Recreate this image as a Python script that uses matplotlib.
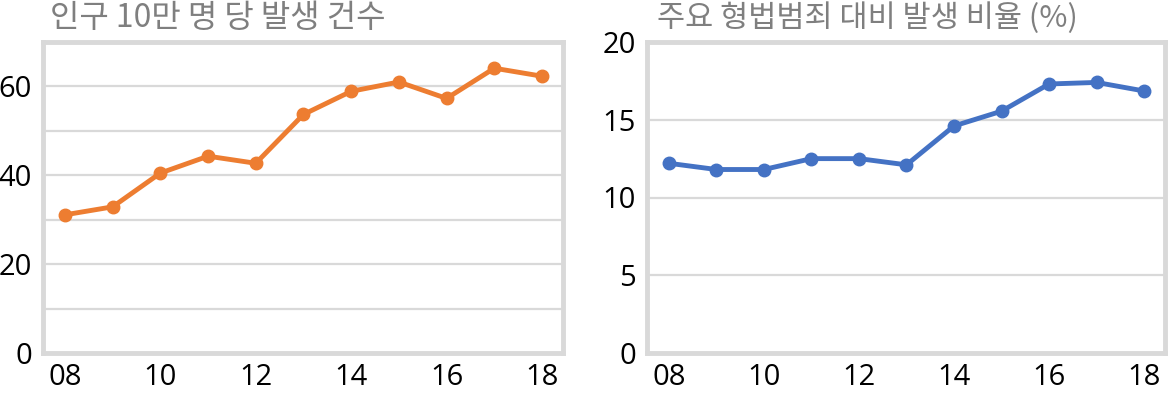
import matplotlib
matplotlib.use("Agg")
import matplotlib.pyplot as plt

plt.rcParams['font.family'] = ['Open Sans', 'Noto Sans CJK KR', 'DejaVu Sans']

# data
years = [2008, 2009, 2010, 2011, 2012, 2013, 2014, 2015, 2016, 2017, 2018]
year_labels = ["08", "10", "12", "14", "16", "18"]
per_100k = [31.1, 32.9, 40.5, 44.3, 42.7, 53.7, 58.9, 61.0, 57.3, 64.1, 62.3]
ratio_pct = [12.2, 11.8, 11.8, 12.5, 12.5, 12.1, 14.6, 15.55, 17.3, 17.4, 16.85]

left_title = "인구 10만 명 당 발생 건수"
right_title = "주요 형법범죄 대비 발생 비율 (%)"

frame_color = "#d9d9d9"
grid_color = "#d9d9d9"
title_color = "#7f7f7f"

fig = plt.figure(figsize=(11.7, 3.99), dpi=100)
ax1 = fig.add_axes([43 / 1170, 1 - 353 / 399, 520 / 1170, 311 / 399])
ax2 = fig.add_axes([647 / 1170, 1 - 353 / 399, 518 / 1170, 311 / 399])


def style_axis(ax, ylim, grid_step, tick_step):
    ax.set_xlim(2007.54, 2018.44)
    ax.set_ylim(*ylim)
    ax.set_xticks(years[::2])
    ax.set_xticklabels(year_labels)
    ticks = list(range(ylim[0], ylim[1] + 1, tick_step))
    ax.set_yticks(ticks)
    ax.set_yticklabels([str(t) for t in ticks])
    for g in range(ylim[0] + grid_step, ylim[1], grid_step):
        ax.axhline(g, color=grid_color, lw=1.6, zorder=1)
    for sp in ax.spines.values():
        sp.set_color(frame_color)
        sp.set_linewidth(3.5)
    ax.tick_params(length=0, labelsize=21, pad=8, colors="black")
    ax.tick_params(axis="x", pad=7)


style_axis(ax1, (0, 70), 10, 20)
style_axis(ax2, (0, 20), 5, 5)

ax1.plot(years, per_100k, color="#ed7d31", lw=3.5, marker="o", ms=9, zorder=3,
         clip_on=False)
ax2.plot(years, ratio_pct, color="#4472c4", lw=3.5, marker="o", ms=9, zorder=3,
         clip_on=False)

fig.text(50 / 1170, 1 - 18 / 399, left_title, fontsize=23, color=title_color,
         family=['Noto Sans CJK KR', 'DejaVu Sans'], va="center", ha="left")
fig.text(657 / 1170, 1 - 18 / 399, right_title, fontsize=22, color=title_color,
         family=['Noto Sans CJK KR', 'DejaVu Sans'], va="center", ha="left")

fig.savefig("out.png", dpi=100)
